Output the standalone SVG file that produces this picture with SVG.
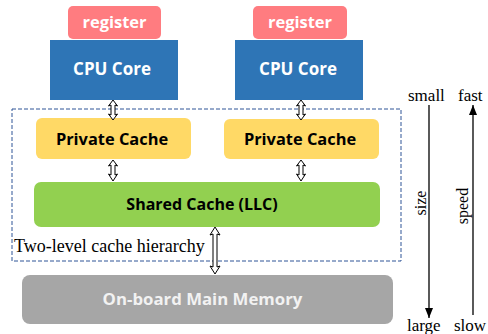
<svg xmlns="http://www.w3.org/2000/svg" width="488" height="334" viewBox="0 0 488 334">
  <style>
    .box-text { font-family: "Open Sans", Lato, "Liberation Sans", sans-serif; font-weight: bold; text-anchor: middle; }
    .serif { font-family: "Liberation Serif", "Times New Roman", serif; fill: #000; }
    .dbl { fill: #fff; stroke: #000; stroke-width: 1; stroke-linejoin: miter; }
    .axis { stroke: #000; stroke-width: 1.3; fill: none; }
  </style>
  <defs>
    <marker id="head" viewBox="0 0 10 8" refX="10" refY="4" markerWidth="10" markerHeight="8" markerUnits="userSpaceOnUse" orient="auto">
      <path d="M0,0 L10,4 L0,8 Z" fill="#000"/>
    </marker>
  </defs>

  <rect width="488" height="334" fill="#fff"/>

  <!-- cache hierarchy boundary -->
  <g id="cache-hierarchy">
    <rect x="12" y="109" width="389" height="152" fill="none" stroke="#2f5597" stroke-width="1" stroke-dasharray="4 2"/>
    <text class="serif" x="14" y="252" font-size="18">Two-level cache hierarchy</text>
  </g>

  <g id="register-1">
    <rect x="68" y="6" width="93" height="33" rx="5" fill="#ff7c80"/>
    <text class="box-text" x="114.5" y="28" font-size="16.5" fill="#fff">register</text>
  </g>
  <g id="register-2">
    <rect x="253" y="6" width="94" height="33" rx="5" fill="#ff7c80"/>
    <text class="box-text" x="300" y="28" font-size="16.5" fill="#fff">register</text>
  </g>

  <g id="cpu-core-1">
    <rect x="50" y="40" width="128" height="60" fill="#2e75b6"/>
    <text class="box-text" x="112" y="75" font-size="17" fill="#fff">CPU Core</text>
  </g>
  <g id="cpu-core-2">
    <rect x="235" y="40" width="128" height="60" fill="#2e75b6"/>
    <text class="box-text" x="298" y="75" font-size="17" fill="#fff">CPU Core</text>
  </g>

  <g id="private-cache-1">
    <rect x="36" y="118" width="155" height="41" rx="6" fill="#ffd966"/>
    <text class="box-text" x="112" y="145" font-size="16.4" fill="#000">Private Cache</text>
  </g>
  <g id="private-cache-2">
    <rect x="224" y="119" width="155" height="40" rx="6" fill="#ffd966"/>
    <text class="box-text" x="300" y="145" font-size="16.4" fill="#000">Private Cache</text>
  </g>

  <g id="shared-cache">
    <rect x="34" y="182" width="346" height="45" rx="7" fill="#92d050"/>
    <text class="box-text" x="202" y="210" font-size="16" fill="#000">Shared Cache (LLC)</text>
  </g>

  <g id="main-memory">
    <rect x="22" y="275" width="371" height="49" rx="8" fill="#a6a6a6"/>
    <text class="box-text" x="202.5" y="305" font-size="16.8" fill="#f2f2f2">On-board Main Memory</text>
  </g>

  <!-- connectors -->
  <g id="connectors">
    <!-- core to private cache -->
    <polygon class="dbl" points="113,100 117.5,106 115,105 115,115 117.5,114 113,120 108.5,114 111,115 111,105 108.5,106"/>
    <polygon class="dbl" points="301,100 305.5,106 303,105 303,115 305.5,114 301,120 296.5,114 299,115 299,105 296.5,106"/>
    <!-- private cache to shared cache -->
    <polygon class="dbl" points="113,160 117.5,166 115,165 115,175 117.5,174 113,181 108.5,174 111,175 111,165 108.5,166"/>
    <polygon class="dbl" points="301,160 305.5,166 303,165 303,175 305.5,174 301,181 296.5,174 299,175 299,165 296.5,166"/>
    <!-- shared cache to main memory -->
    <polygon class="dbl" points="215,227 220,235 217,234 217,267 220,266 215,274 210,266 213,267 213,234 210,235"/>

    <!-- size / speed scales -->
    <line class="axis" x1="429" y1="105" x2="429" y2="318" marker-end="url(#head)"/>
    <line class="axis" x1="473" y1="315" x2="473" y2="105" marker-end="url(#head)"/>
  </g>

  <g id="scale-labels">
    <text class="serif" x="408" y="101" font-size="17">small</text>
    <text class="serif" x="458" y="101" font-size="17">fast</text>
    <text class="serif" x="407" y="331" font-size="17">large</text>
    <text class="serif" x="454" y="331" font-size="17">slow</text>
    <text class="serif" transform="translate(425.5,203) rotate(-90)" font-size="16" text-anchor="middle">size</text>
    <text class="serif" transform="translate(468,206) rotate(-90)" font-size="16" text-anchor="middle">speed</text>
  </g>
</svg>
